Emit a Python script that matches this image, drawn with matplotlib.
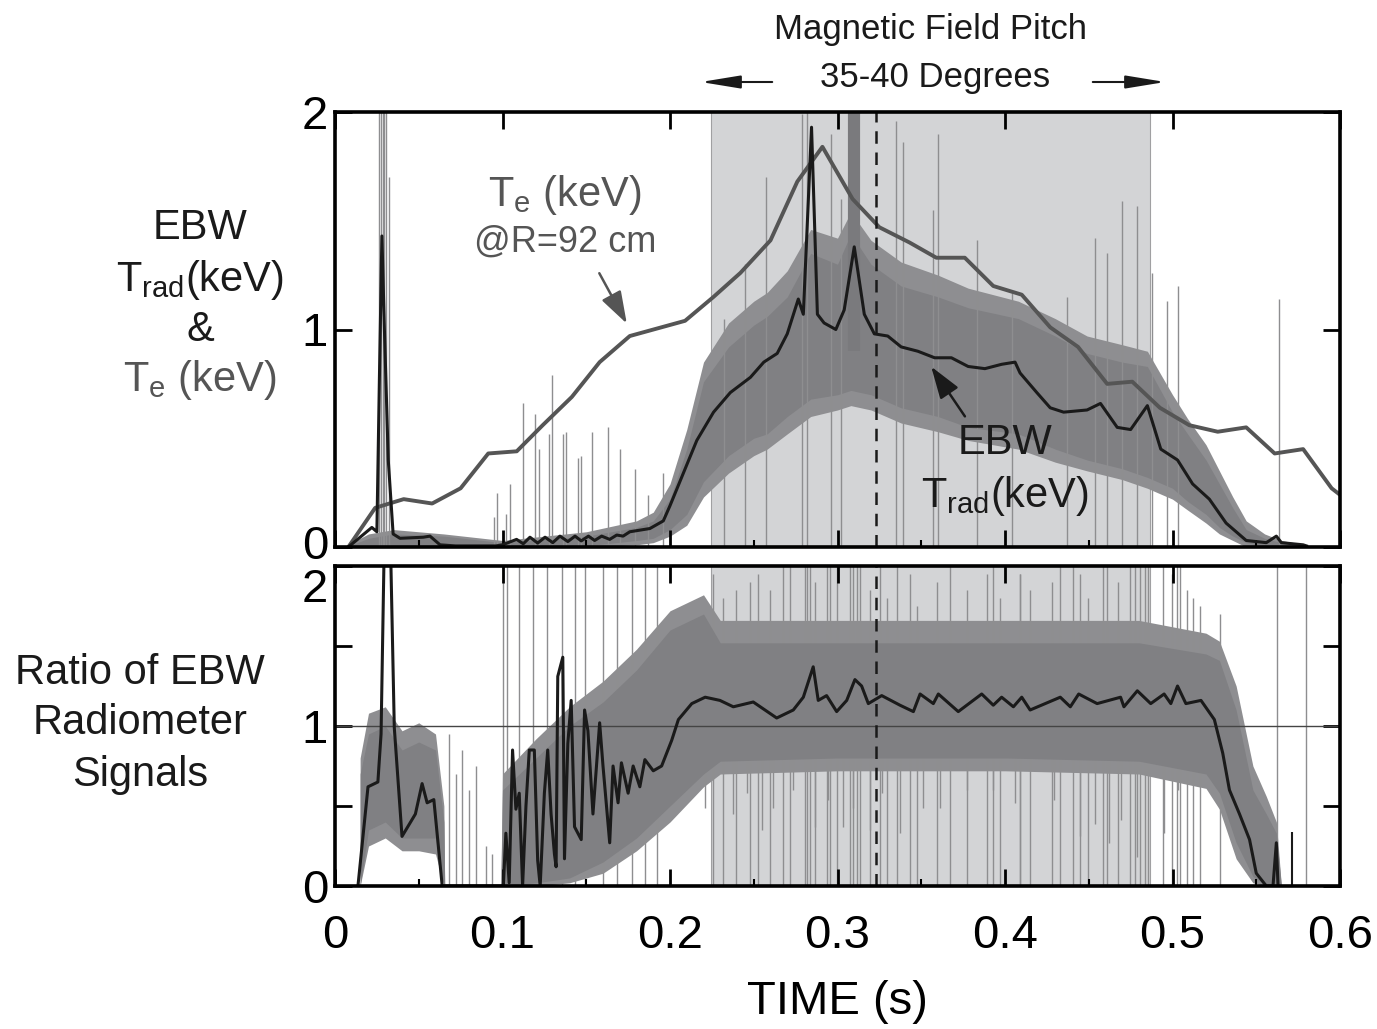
import matplotlib
matplotlib.use("Agg")
import matplotlib.pyplot as plt
import matplotlib.transforms as mtransforms
import numpy as np

plt.rcParams['font.family'] = ['Liberation Sans', 'DejaVu Sans']
plt.rcParams['mathtext.fontset'] = 'custom'
plt.rcParams['mathtext.rm'] = 'Liberation Sans'
plt.rcParams['mathtext.it'] = 'Liberation Sans:italic'

# ---- Te at R=92 cm (top panel, grey line)
te_t = [0.008, 0.024, 0.041, 0.058, 0.075, 0.0915, 0.1085, 0.124, 0.1414, 0.158, 0.176,
        0.209, 0.226, 0.242, 0.260, 0.276, 0.291, 0.309, 0.325, 0.343, 0.359, 0.376,
        0.393, 0.410, 0.427, 0.4436, 0.461, 0.476, 0.4925, 0.510, 0.527, 0.544, 0.561,
        0.578, 0.595, 0.600]
te_v = [0.0, 0.18, 0.22, 0.20, 0.27, 0.43, 0.44, 0.56, 0.69, 0.85, 0.97,
        1.04, 1.15, 1.26, 1.41, 1.68, 1.84, 1.60, 1.47, 1.40, 1.33, 1.33,
        1.20, 1.16, 1.01, 0.92, 0.75, 0.76, 0.64, 0.56, 0.53, 0.55, 0.43,
        0.45, 0.27, 0.24]

# ---- EBW Trad smoothed (top panel, black line)
tr_t = [0.008, 0.022, 0.025, 0.0265, 0.028, 0.0295, 0.0318, 0.0347, 0.0388, 0.0527, 0.0567,
        0.0627, 0.072, 0.096, 0.100, 0.1084, 0.1124, 0.1164, 0.121, 0.1254, 0.130, 0.1343,
        0.139, 0.1433, 0.147, 0.1513, 0.155, 0.1592, 0.164, 0.1682, 0.172, 0.176, 0.188,
        0.196, 0.200, 0.208, 0.216, 0.226, 0.236, 0.248, 0.256, 0.264, 0.270, 0.2766,
        0.2796, 0.2845, 0.288, 0.292, 0.299, 0.304, 0.310, 0.316, 0.322, 0.330, 0.338,
        0.348, 0.358, 0.368, 0.378, 0.388, 0.398, 0.406, 0.409, 0.419, 0.427, 0.435,
        0.449, 0.457, 0.467, 0.475, 0.485, 0.493, 0.503, 0.512, 0.522, 0.532, 0.544,
        0.556, 0.562, 0.565, 0.578, 0.580]
tr_v = [0.0, 0.09, 0.07, 0.77, 1.43, 1.00, 0.40, 0.06, 0.04, 0.045, 0.05,
        0.01, 0.005, 0.005, 0.01, 0.035, 0.015, 0.045, 0.018, 0.045, 0.02, 0.05,
        0.025, 0.05, 0.028, 0.05, 0.03, 0.05, 0.035, 0.055, 0.05, 0.07, 0.085,
        0.12, 0.19, 0.34, 0.49, 0.62, 0.71, 0.78, 0.85, 0.89, 0.98, 1.14,
        1.07, 1.93, 1.07, 1.03, 1.00, 1.09, 1.38, 1.07, 0.98, 0.97, 0.92,
        0.90, 0.87, 0.87, 0.83, 0.82, 0.84, 0.85, 0.80, 0.71, 0.64, 0.62,
        0.63, 0.66, 0.55, 0.54, 0.65, 0.45, 0.40, 0.29, 0.22, 0.11, 0.03,
        0.02, 0.05, 0.02, 0.01, 0.005]

# ---- raw EBW signal envelope (top panel, grey band: core and noisy fringe)
band_t = [0.010, 0.020, 0.035, 0.065, 0.100, 0.150, 0.180, 0.190, 0.200, 0.210, 0.220,
          0.235, 0.250, 0.258, 0.270, 0.284, 0.300, 0.308, 0.320, 0.338, 0.360, 0.378,
          0.408, 0.430, 0.449, 0.470, 0.485, 0.500, 0.509, 0.520, 0.528, 0.536, 0.544,
          0.555, 0.565, 0.580]
band_lo = [0.0, 0.0, 0.0, 0.0, 0.0, 0.005, 0.03, 0.04, 0.08, 0.15, 0.30,
           0.42, 0.50, 0.52, 0.60, 0.68, 0.70, 0.72, 0.70, 0.64, 0.60, 0.55,
           0.52, 0.45, 0.40, 0.36, 0.32, 0.27, 0.21, 0.15, 0.09, 0.05, 0.02,
           0.005, 0.0, 0.0]
band_hi = [0.01, 0.04, 0.06, 0.05, 0.02, 0.05, 0.09, 0.12, 0.22, 0.45, 0.76,
           0.92, 1.02, 1.06, 1.15, 1.35, 1.30, 1.44, 1.30, 1.20, 1.15, 1.10,
           1.05, 0.97, 0.89, 0.85, 0.83, 0.62, 0.52, 0.40, 0.29, 0.18, 0.08,
           0.04, 0.02, 0.005]
fringe_lo = [0.0, 0.0, 0.0, 0.0, 0.0, 0.0, 0.01, 0.02, 0.05, 0.10, 0.23,
             0.34, 0.42, 0.45, 0.52, 0.60, 0.63, 0.65, 0.63, 0.57, 0.53, 0.49,
             0.45, 0.39, 0.35, 0.31, 0.27, 0.22, 0.17, 0.11, 0.06, 0.03, 0.0,
             0.0, 0.0, 0.0]
fringe_hi = [0.02, 0.06, 0.08, 0.06, 0.03, 0.07, 0.12, 0.16, 0.29, 0.54, 0.85,
             1.03, 1.13, 1.17, 1.27, 1.46, 1.42, 1.54, 1.41, 1.31, 1.25, 1.19,
             1.13, 1.05, 0.97, 0.93, 0.90, 0.70, 0.59, 0.47, 0.35, 0.23, 0.12,
             0.06, 0.03, 0.01]

# spikes in the raw top signal
spk_t = [0.0265, 0.0275, 0.0285, 0.0295, 0.0305, 0.0325,
         0.0947, 0.0968, 0.1022, 0.1042, 0.112, 0.1195, 0.1215, 0.128, 0.1295, 0.136,
         0.138, 0.145, 0.147, 0.1535, 0.163, 0.170, 0.179, 0.187, 0.196,
         0.232, 0.245, 0.2575, 0.2786, 0.282, 0.296, 0.302, 0.335, 0.339, 0.357,
         0.360, 0.383, 0.404, 0.437, 0.454, 0.461, 0.470, 0.479, 0.488, 0.4967,
         0.5035, 0.5638]
spk_h = [2.0, 2.0, 2.0, 2.0, 2.0, 1.70,
         0.14, 0.25, 0.15, 0.29, 0.66, 0.61, 0.45, 0.52, 0.79, 0.52,
         0.53, 0.41, 0.42, 0.53, 0.55, 0.45, 0.36, 0.24, 0.34,
         1.05, 1.30, 1.70, 1.99, 2.0, 1.90, 1.60, 1.96, 1.86, 1.55,
         1.90, 1.41, 1.17, 1.15, 1.42, 1.35, 1.59, 1.57, 1.26, 1.13,
         1.20, 1.14]
dark_t = [0.3075, 0.3090, 0.3105, 0.3120]
dark_h = [2.0, 2.0, 2.0, 2.0]

# ---- ratio of radiometer signals (bottom panel)
rt = [0.0137, 0.0197, 0.0256, 0.0275, 0.0295, 0.031, 0.033, 0.0354, 0.040, 0.048, 0.052,
      0.055, 0.059, 0.064, 0.0995, 0.1005, 0.102, 0.104, 0.106, 0.108, 0.110, 0.112,
      0.114, 0.116, 0.119, 0.121, 0.1225, 0.125, 0.127, 0.129, 0.131, 0.132, 0.133,
      0.136, 0.137, 0.139, 0.141, 0.143, 0.147, 0.149, 0.151, 0.154, 0.158, 0.160,
      0.164, 0.166, 0.169, 0.171, 0.175, 0.178, 0.182, 0.185, 0.190, 0.195, 0.201,
      0.205, 0.213, 0.221, 0.2298, 0.2378, 0.2497, 0.2637, 0.2736, 0.2796, 0.2855,
      0.2885, 0.2935, 0.2995, 0.3055, 0.3104, 0.3144, 0.3184, 0.3264, 0.3373, 0.3453,
      0.3493, 0.3572, 0.3602, 0.3721, 0.3861, 0.393, 0.398, 0.405, 0.410, 0.415,
      0.433, 0.439, 0.444, 0.455, 0.469, 0.471, 0.479, 0.487, 0.495, 0.499, 0.503,
      0.508, 0.517, 0.525, 0.530, 0.534, 0.540, 0.546, 0.550, 0.556, 0.560, 0.562,
      0.563]
rv = [0.0, 0.62, 0.65, 0.95, 2.2, 2.2, 2.2, 0.99, 0.31, 0.45, 0.64,
      0.52, 0.54, 0.0, 0.0, 0.0, 0.33, 0.02, 0.85, 0.48, 0.58, 0.0,
      0.50, 0.85, 0.85, 0.16, 0.0, 0.58, 0.85, 0.45, 0.20, 0.12, 1.31,
      1.43, 0.17, 0.89, 1.16, 0.37, 0.29, 1.10, 0.97, 0.45, 1.02, 0.75,
      0.27, 0.75, 0.52, 0.77, 0.58, 0.75, 0.62, 0.79, 0.72, 0.75, 0.91,
      1.04, 1.14, 1.18, 1.16, 1.12, 1.15, 1.05, 1.10, 1.18, 1.37,
      1.16, 1.19, 1.09, 1.16, 1.29, 1.25, 1.14, 1.19, 1.13, 1.09,
      1.20, 1.14, 1.20, 1.09, 1.20, 1.13, 1.18, 1.12, 1.18, 1.10,
      1.18, 1.12, 1.20, 1.14, 1.18, 1.12, 1.22, 1.14, 1.20, 1.14, 1.25,
      1.14, 1.16, 1.04, 0.83, 0.60, 0.45, 0.29, 0.08, 0.0, 0.0, 0.27,
      0.0]

rband_t = [0.015, 0.020, 0.030, 0.040, 0.050, 0.060, 0.065, 0.0655, 0.099, 0.100, 0.120,
           0.140, 0.160, 0.180, 0.200, 0.220, 0.230, 0.300, 0.400, 0.480, 0.520, 0.528,
           0.538, 0.548, 0.556, 0.562, 0.565]
rband_lo = [0.0, 0.35, 0.40, 0.30, 0.30, 0.30, 0.0, 0.0, 0.0, 0.0, 0.02,
            0.05, 0.15, 0.30, 0.50, 0.70, 0.78, 0.80, 0.80, 0.78, 0.70, 0.58,
            0.27, 0.06, 0.0, 0.0, 0.0]
rband_hi = [0.70, 0.95, 1.00, 0.85, 0.90, 0.85, 0.40, 0.0, 0.0, 0.60, 0.80,
            1.00, 1.15, 1.35, 1.60, 1.70, 1.52, 1.52, 1.52, 1.52, 1.45, 1.41,
            1.10, 0.60, 0.45, 0.33, 0.0]
rfringe_lo = [0.0, 0.25, 0.30, 0.22, 0.22, 0.20, 0.0, 0.0, 0.0, 0.0, 0.0,
              0.02, 0.08, 0.22, 0.40, 0.62, 0.70, 0.72, 0.72, 0.70, 0.61, 0.48,
              0.17, 0.02, 0.0, 0.0, 0.0]
rfringe_hi = [0.80, 1.08, 1.12, 0.97, 1.02, 0.95, 0.50, 0.0, 0.0, 0.70, 0.92,
              1.12, 1.28, 1.48, 1.72, 1.82, 1.66, 1.66, 1.66, 1.66, 1.58, 1.53,
              1.25, 0.75, 0.56, 0.40, 0.0]

# upward spikes of the raw ratio (clipped at the top)
rspk_t = [0.0680, 0.0720, 0.0760, 0.0800, 0.0840, 0.0900, 0.0940,
          0.1001, 0.1025, 0.1101, 0.1184, 0.1264, 0.1353, 0.1433, 0.1493, 0.1602, 0.1682,
          0.1771, 0.1851, 0.1920, 0.2258, 0.2318, 0.2397, 0.2477, 0.2527, 0.2597, 0.2676,
          0.2716, 0.2806, 0.2816, 0.2836, 0.2865, 0.2935, 0.2955, 0.2995, 0.3075, 0.3094,
          0.3114, 0.3134, 0.3194, 0.3254, 0.3294, 0.3353, 0.3433, 0.3473, 0.3592, 0.3671,
          0.3771, 0.3890, 0.3930, 0.3970, 0.4089, 0.4089, 0.4149, 0.4279, 0.4328, 0.4408,
          0.4448, 0.4498, 0.4587, 0.4607, 0.4677, 0.4746, 0.4776, 0.4806, 0.4836, 0.4856,
          0.4945, 0.4995, 0.5025, 0.5045, 0.5085, 0.5125, 0.5164, 0.5284, 0.5624, 0.5800]
rspk_h = [0.95, 0.70, 0.85, 0.60, 0.75, 0.25, 0.20,
          2.2, 2.2, 2.2, 2.2, 2.2, 2.2, 2.2, 2.2, 2.2, 2.2,
          2.2, 2.2, 2.2, 1.95, 1.80, 1.85, 1.90, 1.95, 1.85, 2.2,
          2.0, 2.2, 2.2, 2.2, 1.90, 2.2, 2.2, 2.0, 2.2, 2.2,
          2.2, 2.0, 1.85, 2.2, 1.80, 2.0, 1.95, 1.75, 1.90, 2.0,
          1.85, 1.95, 2.0, 1.80, 1.95, 1.95, 1.85, 1.90, 2.0, 2.2,
          1.95, 1.80, 2.2, 2.2, 1.90, 2.0, 2.2, 2.2, 2.0, 2.2,
          2.2, 1.95, 2.2, 2.0, 1.85, 1.80, 1.75, 1.70, 2.2, 2.2]
# downward spikes of the raw ratio
rdn_t = [0.2207, 0.2378, 0.2457, 0.2547, 0.2617, 0.2736, 0.2865, 0.2945, 0.3035, 0.3094,
         0.3194, 0.3264, 0.3373, 0.3513, 0.3612, 0.3771, 0.3930, 0.4060, 0.4290, 0.4450,
         0.4540, 0.4620, 0.4690, 0.4790, 0.4950, 0.5030, 0.5130]
rdn_v = [0.49, 0.45, 0.58, 0.35, 0.49, 0.60, 0.37, 0.54, 0.37, 0.49,
         0.35, 0.58, 0.33, 0.49, 0.49, 0.60, 0.60, 0.52, 0.54, 0.31,
         0.39, 0.27, 0.41, 0.18, 0.33, 0.60, 0.68]
blk_spk_t = [0.5714]
blk_spk_h = [0.34]

pitch_start, pitch_end = 0.2245, 0.4866
t_dash = 0.323

W, H = 1377, 1029
fig = plt.figure(figsize=(W / 100, H / 100), dpi=100)
ax1 = fig.add_axes([335 / W, 1 - 547 / H, 1005 / W, 435 / H])
ax2 = fig.add_axes([335 / W, 1 - 886 / H, 1005 / W, 320 / H])

band_c = '#808083'
fringe_c = '#8e8e91'
spk_c = '#8e8e90'

for ax in (ax1, ax2):
    ax.axvspan(pitch_start, pitch_end, color='#d3d4d6', zorder=0, lw=0)
    ax.axvline(pitch_start, color='#a0a0a2', lw=0.8, zorder=0.5)
    ax.axvline(pitch_end, color='#a0a0a2', lw=0.8, zorder=0.5)

# top panel
ax1.fill_between(band_t, fringe_lo, fringe_hi, color=fringe_c, lw=0, zorder=0.8)
ax1.fill_between(band_t, band_lo, band_hi, color=band_c, lw=0, zorder=1)
ax1.vlines(spk_t, 0, spk_h, colors=spk_c, lw=1.0, zorder=1.5)
ax1.vlines(dark_t, 0.9, dark_h, colors='#7a7a7d', lw=3.0, zorder=1.6)
ax1.plot(te_t, te_v, color='#555555', lw=2.8, zorder=3)
ax1.plot(tr_t, tr_v, color='#1a1a1a', lw=2.2, zorder=4)
ax1.axvline(t_dash, color='#1a1a1a', lw=1.8, ls=(0, (5, 3.5)), zorder=5)
ax1.set_xlim(0, 0.6)
ax1.set_ylim(0, 2)

ax1.text(0.1373, 1.62, r'T$_\mathrm{e}$ (keV)', color='#555555', fontsize=30,
         ha='center', va='center')
ax1.text(0.1373, 1.40, '@R=92 cm', color='#555555', fontsize=26, ha='center', va='center')
ax1.annotate('', xy=(0.175, 1.016), xytext=(0.157, 1.27),
             arrowprops=dict(arrowstyle='-|>,head_length=0.9,head_width=0.3',
                             color='#555555', lw=1.8, mutation_scale=22))
ax1.text(0.40, 0.478, 'EBW', color='#1a1a1a', fontsize=30, ha='center', va='center')
ax1.text(0.40, 0.235, r'T$_\mathrm{rad}$(keV)', color='#1a1a1a', fontsize=30,
         ha='center', va='center')
ax1.annotate('', xy=(0.355, 0.84), xytext=(0.377, 0.59),
             arrowprops=dict(arrowstyle='-|>,head_length=0.9,head_width=0.3',
                             color='#1a1a1a', lw=1.8, mutation_scale=22))

# bottom panel
ax2.fill_between(rband_t, rfringe_lo, rfringe_hi, color=fringe_c, lw=0, zorder=0.8)
ax2.fill_between(rband_t, rband_lo, rband_hi, color=band_c, lw=0, zorder=1)
ax2.vlines(rspk_t, 0, rspk_h, colors=spk_c, lw=1.0, zorder=0.9)
ax2.vlines(rdn_t, rdn_v, 1.0, colors=spk_c, lw=1.0, zorder=0.9)
ax2.axhline(1.0, color='#444444', lw=1.0, zorder=2)
ax2.plot(rt, rv, color='#1a1a1a', lw=2.2, zorder=4)
ax2.vlines(blk_spk_t, 0, blk_spk_h, colors='#1a1a1a', lw=1.5, zorder=4)
ax2.axvline(t_dash, color='#1a1a1a', lw=1.8, ls=(0, (5, 3.5)), zorder=5)
ax2.set_xlim(0, 0.6)
ax2.set_ylim(0, 2)

for ax in (ax1, ax2):
    for s in ax.spines.values():
        s.set_linewidth(2.6)
        s.set_zorder(10)
    ax.set_xticks(np.arange(0, 0.61, 0.1))
    ax.set_xticks(np.arange(0.05, 0.6, 0.1), minor=True)
    ax.tick_params(which='major', direction='in', length=12, width=2,
                   top=True, right=True, labelsize=34, pad=5)
    ax.tick_params(which='minor', direction='in', length=5, width=1.5,
                   top=False, right=False)
    ax.tick_params(axis='x', which='major', pad=20)

ax1.set_yticks([0, 1, 2])
ax1.set_yticklabels(['0', '1', '2'])
ax1.tick_params(axis='x', labelbottom=False)
ax2.set_yticks([0, 0.5, 1, 1.5, 2])
ax2.set_yticklabels(['0', '', '1', '', '2'])
ax2.set_xticklabels(['0', '0.1', '0.2', '0.3', '0.4', '0.5', '0.6'])
ax2.set_xlabel('TIME (s)', fontsize=34, labelpad=16)

# nudge the two labels where the panels meet, as in the reference
down = mtransforms.ScaledTranslation(0, -0.19, fig.dpi_scale_trans)
up = mtransforms.ScaledTranslation(0, 0.05, fig.dpi_scale_trans)
lab2 = ax2.get_yticklabels()[-1]
lab2.set_transform(lab2.get_transform() + down)
lab0 = ax1.get_yticklabels()[0]
lab0.set_transform(lab0.get_transform() + up)


def fx(px):
    return px / W


def fy(py):
    return 1 - py / H


fig.text(fx(200), fy(228), 'EBW', fontsize=30, ha='center', va='center', color='#1a1a1a')
fig.text(fx(200), fy(280), r'T$_\mathrm{rad}$(keV)', fontsize=30, ha='center', va='center',
         color='#1a1a1a')
fig.text(fx(200), fy(330), '&', fontsize=30, ha='center', va='center', color='#1a1a1a')
fig.text(fx(200), fy(380), r'T$_\mathrm{e}$ (keV)', fontsize=30, ha='center', va='center',
         color='#555555')
fig.text(fx(140), fy(673), 'Ratio of EBW', fontsize=30, ha='center', va='center', color='#1a1a1a')
fig.text(fx(140), fy(723), 'Radiometer', fontsize=30, ha='center', va='center', color='#1a1a1a')
fig.text(fx(140), fy(775), 'Signals', fontsize=30, ha='center', va='center', color='#1a1a1a')

fig.text(fx(930), fy(30), 'Magnetic Field Pitch', fontsize=25, ha='center', va='center',
         color='#1a1a1a')
fig.text(fx(935), fy(77), '35-40 Degrees', fontsize=25, ha='center', va='center',
         color='#1a1a1a')
arrow_kw = dict(arrowstyle='-|>,head_length=1.1,head_width=0.18', color='#1a1a1a',
                lw=1.5, mutation_scale=22)
fig.add_artist(matplotlib.patches.FancyArrowPatch((fx(775), fy(82)), (fx(698), fy(82)),
                                                  transform=fig.transFigure, **arrow_kw))
fig.add_artist(matplotlib.patches.FancyArrowPatch((fx(1090), fy(82)), (fx(1168), fy(82)),
                                                  transform=fig.transFigure, **arrow_kw))

fig.savefig('out.png', dpi=100)
